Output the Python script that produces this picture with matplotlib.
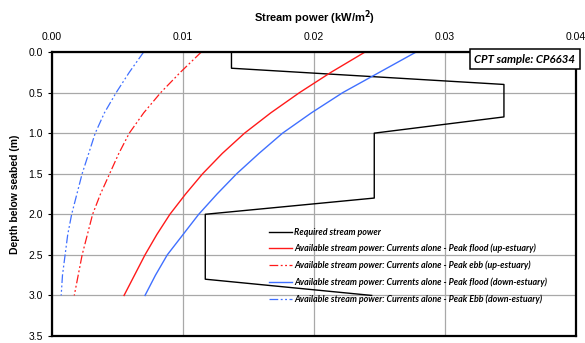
import matplotlib
matplotlib.use("Agg")
import matplotlib.pyplot as plt

# Глубина (м) для кривых доступной мощности потока
depth = [0.0, 0.25, 0.5, 0.75, 1.0, 1.25, 1.5, 1.75, 2.0, 2.25, 2.5, 2.75, 3.0]

# Доступная мощность потока (кВт/м2)
flood_up = [0.0239, 0.0213, 0.0189, 0.0167, 0.0147, 0.0130, 0.0115, 0.0102, 0.0090, 0.0080, 0.0071, 0.0063, 0.0055]
ebb_up = [0.0114, 0.0098, 0.0083, 0.0070, 0.0059, 0.0051, 0.0044, 0.0037, 0.0031, 0.0027, 0.0023, 0.0020, 0.0017]
flood_down = [0.0278, 0.0250, 0.0222, 0.0198, 0.0176, 0.0158, 0.0141, 0.0126, 0.0112, 0.0100, 0.0088, 0.0079, 0.0071]
ebb_down = [0.0070, 0.0059, 0.0049, 0.0040, 0.0033, 0.0028, 0.0023, 0.0019, 0.0015, 0.0012, 0.0010, 0.0008, 0.0007]

# Требуемая мощность потока (ступенчатый профиль)
req_depth = [0.0, 0.2, 0.4, 0.8, 1.0, 1.8, 2.0, 2.8, 3.0]
req_power = [0.0137, 0.0137, 0.0345, 0.0345, 0.0246, 0.0246, 0.0117, 0.0117, 0.0244]

labels = ["Required stream power",
          "Available stream power: Currents alone - Peak flood (up-estuary)",
          "Available stream power: Currents alone - Peak ebb (up-estuary)",
          "Available stream power: Currents alone - Peak flood (down-estuary)",
          "Available stream power: Currents alone - Peak Ebb (down-estuary)"]

plt.rcParams['font.family'] = ['Liberation Sans', 'DejaVu Sans']

fig = plt.figure(figsize=(5.85, 3.43), dpi=100)
ax = fig.add_axes([0.0889, 0.0204, 0.8957, 0.828])

red = '#ff1a1a'
blue = '#4070ff'
dd = (0, (7, 2, 1.5, 2, 1.5, 2))

ax.plot(req_power, req_depth, color='black', lw=1.0, label=labels[0])
ax.plot(flood_up, depth, color=red, lw=1.0, label=labels[1])
ax.plot(ebb_up, depth, color=red, lw=0.9, ls=dd, label=labels[2])
ax.plot(flood_down, depth, color=blue, lw=1.0, label=labels[3])
ax.plot(ebb_down, depth, color=blue, lw=0.9, ls=dd, label=labels[4])

ax.set_xlim(0, 0.04)
ax.set_ylim(3.5, 0)
ax.set_xticks([0, 0.01, 0.02, 0.03, 0.04])
ax.set_xticklabels(['0.00', '0.01', '0.02', '0.03', '0.04'])
ax.set_yticks([0, 0.5, 1.0, 1.5, 2.0, 2.5, 3.0, 3.5])
ax.set_yticklabels(['%.1f' % v for v in ax.get_yticks()])
ax.xaxis.tick_top()
ax.xaxis.set_label_position('top')
ax.tick_params(axis='both', labelsize=7.5, length=3, width=0.8, color='black')
ax.tick_params(axis='x', length=0, pad=7)
ax.grid(True, color='#a8a8a8', lw=0.9)
ax.set_axisbelow(True)
for s in ax.spines.values():
    s.set_linewidth(1.6)
    s.set_color('black')

ax.set_xlabel('Stream power (kW/m$^\\mathbf{2}$)', fontsize=8, fontweight='bold', labelpad=8)
ax.set_ylabel('Depth below seabed (m)', fontsize=7.5, fontweight='bold', labelpad=6)

leg = ax.legend(loc='upper left', bbox_to_anchor=(0.408, 0.394), frameon=False,
                prop={'family': ['Lato', 'DejaVu Sans'], 'style': 'italic', 'weight': 'bold', 'size': 6.4},
                handlelength=2.5, handletextpad=0.3, labelspacing=0.82, borderaxespad=0)

ax.text(0.9985, 0.994, 'CPT sample: CP6634', transform=ax.transAxes, ha='right', va='top',
        fontsize=8.2, fontstyle='italic', fontweight='bold', family=['Lato', 'DejaVu Sans'],
        bbox=dict(boxstyle='square,pad=0.4', fc='white', ec='black', lw=1.1))

fig.savefig('out.png', dpi=100)
